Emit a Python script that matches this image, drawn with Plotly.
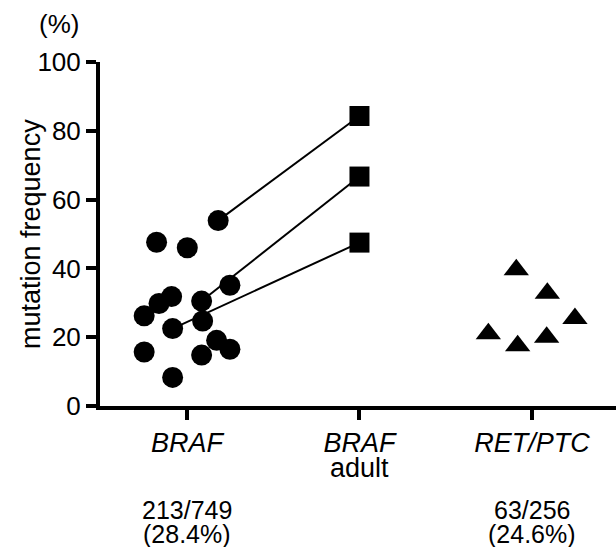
import plotly.graph_objects as go

# ---- data ----
groups = ["BRAF", "BRAF adult", "RET/PTC"]
group_pos = [0, 1, 2]
tick_text = ["<i>BRAF</i>", "<i>BRAF</i>", "<i>RET/PTC</i>"]

# BRAF (pediatric) studies: horizontal jitter position and frequency (%)
braf_x = [0.181, -0.176, 0.002, 0.249, -0.089, -0.162, -0.248, 0.085,
          -0.083, 0.091, 0.172, 0.249, -0.248, 0.085, -0.083]
braf_y = [53.9, 47.6, 46.0, 35.1, 31.8, 29.8, 26.2, 30.5,
          22.5, 24.7, 19.1, 16.5, 15.7, 14.8, 8.3]

# BRAF adult comparison values
adult_x = [1.0, 1.0, 1.0]
adult_y = [84.3, 66.7, 47.5]
# index of the pediatric BRAF study that each adult value is paired with
pair_index = [0, 7, 8]

# RET/PTC studies
ret_x = [1.909, 2.089, 2.249, 1.747, 1.917, 2.085]
ret_y = [39.6, 32.8, 25.4, 21.0, 17.5, 20.0]

counts = {0: ["213/749", "(28.4%)"], 2: ["63/256", "(24.6%)"]}

FONT = "Liberation Sans, Arial, Helvetica, sans-serif"
BLACK = "#000000"

fig = go.Figure()

# connecting lines
for k, i in enumerate(pair_index):
    fig.add_trace(go.Scatter(
        x=[braf_x[i], adult_x[k]], y=[braf_y[i], adult_y[k]],
        mode="lines", line=dict(color=BLACK, width=2),
        showlegend=False, hoverinfo="skip"))

fig.add_trace(go.Scatter(
    x=braf_x, y=braf_y, mode="markers", name=groups[0],
    marker=dict(symbol="circle", size=21, color=BLACK, line=dict(width=0)),
    showlegend=False))
fig.add_trace(go.Scatter(
    x=adult_x, y=adult_y, mode="markers", name=groups[1],
    marker=dict(symbol="square", size=20, color=BLACK, line=dict(width=0)),
    showlegend=False))
fig.add_trace(go.Scatter(
    x=ret_x, y=ret_y, mode="markers", name=groups[2],
    marker=dict(symbol="triangle-up", size=22, color=BLACK, line=dict(width=0)),
    showlegend=False))

annotations = []
# second line of the BRAF adult label
annotations.append(dict(text="adult", x=group_pos[1], xref="x", y=0, yref="paper",
                        yanchor="middle", yshift=-62, showarrow=False,
                        font=dict(family=FONT, size=27, color=BLACK)))
for gi, lines in counts.items():
    for txt, ys in zip(lines, [-104, -128]):
        annotations.append(dict(text=txt, x=group_pos[gi], xref="x", y=0, yref="paper",
                                yanchor="middle", yshift=ys, showarrow=False,
                                font=dict(family=FONT, size=25, color=BLACK)))
# y-axis title and unit
annotations.append(dict(text="mutation frequency", x=0, xref="paper", xanchor="center",
                        xshift=-69, y=0.5, yref="paper", yanchor="middle",
                        textangle=-90, showarrow=False,
                        font=dict(family=FONT, size=27, color=BLACK)))
annotations.append(dict(text="(%)", x=0, xref="paper", xanchor="center", xshift=-41,
                        y=1, yref="paper", yanchor="middle", yshift=38,
                        showarrow=False, font=dict(family=FONT, size=26, color=BLACK)))

fig.update_layout(
    width=616, height=547,
    margin=dict(l=100, r=0, t=62, b=141),
    paper_bgcolor="white", plot_bgcolor="white",
    font=dict(family=FONT, size=26, color=BLACK),
    annotations=annotations,
    xaxis=dict(range=[-0.504, 2.487], tickmode="array", tickvals=group_pos,
               ticktext=tick_text, showgrid=False, zeroline=False,
               showline=True, linecolor=BLACK, linewidth=4,
               ticks="outside", ticklen=10, tickwidth=4, tickcolor=BLACK,
               tickfont=dict(family=FONT, size=27, color=BLACK)),
    yaxis=dict(range=[0, 100], tickmode="array", tickvals=[0, 20, 40, 60, 80, 100],
               showgrid=False, zeroline=False,
               showline=True, linecolor=BLACK, linewidth=4,
               ticks="outside", ticklen=10, tickwidth=4, tickcolor=BLACK,
               tickfont=dict(family=FONT, size=26, color=BLACK)),
)

fig.write_html("out.html", config={"displayModeBar": False},
               post_script="document.body.style.margin='0';document.body.style.overflow='hidden';")
